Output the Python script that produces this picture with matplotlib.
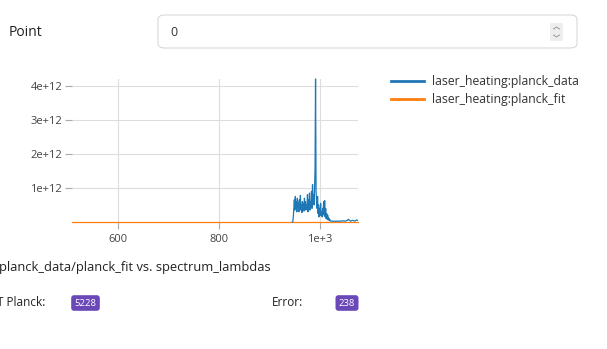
import numpy as np
import matplotlib.pyplot as plt
from matplotlib.patches import FancyBboxPatch
from matplotlib.lines import Line2D

plt.rcParams['font.family'] = ['Open Sans', 'DejaVu Sans']

# spectrum range and measured planck data (units of 1e11)
lambda_range = [509, 1075]
data_lambdas = list(range(945, 1021)) + list(range(1022, 1076, 2))
planck_data = [
    0, 0.2, 1.5, 4, 6.5, 3.5, 7.5, 4, 6, 3,
    7, 4.5, 5.5, 3, 6.5, 4, 7.8, 3.5, 5, 2.8,
    6, 4, 5.5, 3.2, 7, 4.5, 6, 3.5, 5, 4,
    8, 3, 6.5, 4.2, 8.5, 3.5, 6, 5, 9, 4,
    11, 6, 8, 5, 9.5, 15.5, 42, 9, 6, 4,
    7.5, 2.5, 5, 1.5, 4, 2, 5.5, 2, 3, 1.5,
    4, 2.5, 6, 2, 6.3, 1.5, 4, 1, 2.5, 0.8,
    2, 0.6, 1.2, 0.5, 0.8, 0.3,
    0.3, 0.25, 0.2, 0.25, 0.2, 0.3, 0.2, 0.25, 0.2, 0.3,
    0.25, 0.3, 0.35, 0.3, 0.25, 0.4, 0.5, 0.8, 0.5, 0.3,
    0.35, 0.5, 0.4, 0.3, 0.35, 0.6, 0.5,
]
planck_fit = [0, 0]
x_ticks = [600, 800, 1000]
x_labels = ['600', '800', '1e+3']
y_ticks = [1e12, 2e12, 3e12, 4e12]
y_labels = ['1e+12', '2e+12', '3e+12', '4e+12']
t_planck = '5228'
t_error = '238'

W, H = 607, 349
fig = plt.figure(figsize=(W / 100, H / 100), dpi=100)


def fx(px):
    return px / W


def fy(py):
    return 1 - py / H


ax = fig.add_axes([fx(72), fy(222), fx(358) - fx(72), fy(79) - fy(222)])
ax.plot(data_lambdas, np.array(planck_data) * 1e11, color='#1f77b4', lw=0.9,
        label='laser_heating:planck_data', zorder=3, clip_on=False)
ax.plot(lambda_range, planck_fit, color='#ff7f0e', lw=0.9,
        label='laser_heating:planck_fit', zorder=2, clip_on=False)
ax.set_xlim(*lambda_range)
ax.set_ylim(0, 4.2e12)
ax.set_xticks(x_ticks, x_labels)
ax.set_yticks(y_ticks, y_labels)
for s in ax.spines.values():
    s.set_visible(False)
ax.grid(True, color='#dddddd', lw=0.8)
ax.tick_params(axis='both', colors='#aaaaaa', labelcolor='#444444', labelsize=8,
               length=5, width=0.8)
ax.tick_params(axis='y', pad=2)
ax.tick_params(axis='x', pad=4)

leg = fig.legend(loc='upper left', bbox_to_anchor=(fx(386), fy(70)),
                 frameon=False, fontsize=8.8, handlelength=2.7,
                 handletextpad=0.7, labelspacing=0.4, borderaxespad=0)
for t in leg.get_texts():
    t.set_color('#333333')
for l in leg.get_lines():
    l.set_linewidth(2)

# header row with the point selector
fig.text(fx(9), fy(32), 'Point', fontsize=10, color='#222222', va='center')
box = FancyBboxPatch((fx(158), fy(48)), fx(577) - fx(158), fy(15) - fy(48),
                     boxstyle='round,pad=0,rounding_size=0.012',
                     transform=fig.transFigure, fc='white', ec='#d8d8d8', lw=0.8)
fig.patches.append(box)
fig.text(fx(170), fy(32), '0', fontsize=9, color='#333333', va='center')
spin = FancyBboxPatch((fx(550), fy(41)), fx(563) - fx(550), fy(23) - fy(41),
                      boxstyle='round,pad=0,rounding_size=0.003',
                      transform=fig.transFigure, fc='#eeeeee', ec='none')
fig.patches.append(spin)
for yc, d in [(29, -1), (35, 1)]:
    fig.lines.append(Line2D([fx(553.5), fx(556.5), fx(559.5)],
                            [fy(yc), fy(yc + 2 * d), fy(yc)],
                            transform=fig.transFigure, color='#999999', lw=0.7))

# caption and fit results
fig.text(fx(-1), fy(267), 'planck_data/planck_fit vs. spectrum_lambdas',
         fontsize=9.3, color='#222222', va='center')
fig.text(fx(-3), fy(303), 'T Planck:', fontsize=8.5, color='#222222', va='center')
fig.text(fx(272), fy(303), 'Error:', fontsize=8.5, color='#222222', va='center')
for xc, txt in [(85.5, t_planck), (347, t_error)]:
    fig.text(fx(xc), fy(303), txt, fontsize=6.8, color='white', va='center', ha='center',
             bbox=dict(boxstyle='round,pad=0.35,rounding_size=0.3',
                       fc='#6a48b8', ec='none'))

fig.savefig('out.png', dpi=100)
